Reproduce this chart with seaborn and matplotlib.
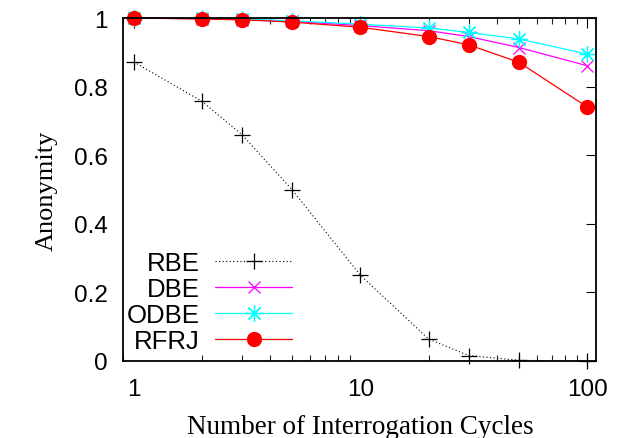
import matplotlib
matplotlib.use("Agg")
import matplotlib.pyplot as plt
import matplotlib.ticker as mticker
import seaborn as sns
import pandas as pd

cycles = [1, 2, 3, 5, 10, 20, 30, 50, 100]
rbe = [0.872, 0.757, 0.660, 0.499, 0.250, 0.064, 0.016, 0.002, 0.0]
dbe = [1.0, 0.998, 0.995, 0.990, 0.978, 0.963, 0.946, 0.914, 0.861]
odbe = [1.0, 0.999, 0.997, 0.992, 0.982, 0.971, 0.958, 0.939, 0.895]
rfrj = [1.0, 0.997, 0.995, 0.988, 0.973, 0.946, 0.922, 0.871, 0.741]
series_names = ["RBE", "DBE", "ODBE", "RFRJ"]
y_ticks = [0, 0.2, 0.4, 0.6, 0.8, 1]
y_tick_labels = ["0", "0.2", "0.4", "0.6", "0.8", "1"]
x_ticks = [1, 10, 100]
x_tick_labels = ["1", "10", "100"]

sns.set_theme(style="white")
plt.rcParams["font.family"] = ["Liberation Sans", "DejaVu Sans"]
plt.rcParams["text.color"] = "black"
plt.rcParams["axes.labelcolor"] = "black"

fig = plt.figure(figsize=(6.2, 4.39), dpi=100)
ax = fig.add_axes([0.199, 0.1754, 0.763, 0.7813])

styles = {
    "RBE": dict(color="black", marker="+", markersize=11, markeredgewidth=0.9,
                linestyle=(0, (1, 2.2)), linewidth=0.8),
    "DBE": dict(color="#ff00ff", marker="x", markersize=9, markeredgewidth=0.9,
                linestyle="-", linewidth=0.9),
    "ODBE": dict(color="#00ffff", marker=(8, 2, 0), markersize=12, markeredgewidth=0.9,
                 linestyle="-", linewidth=0.9),
    "RFRJ": dict(color="#ff0000", marker="o", markersize=11, markeredgewidth=0,
                 linestyle="-", linewidth=0.9),
}
values = {"RBE": rbe, "DBE": dbe, "ODBE": odbe, "RFRJ": rfrj}

for name in series_names:
    df = pd.DataFrame({"x": cycles, "y": values[name]})
    st = styles[name]
    sns.lineplot(data=df, x="x", y="y", ax=ax, label=name,
                 color=st["color"], marker=st["marker"], markersize=st["markersize"],
                 markeredgewidth=st["markeredgewidth"], markeredgecolor=st["color"],
                 linestyle=st["linestyle"], linewidth=st["linewidth"], clip_on=False)

ax.set_xscale("log")
ax.set_xlim(0.9, 110)
ax.set_ylim(0, 1)
ax.set_xticks(x_ticks)
ax.set_xticklabels(x_tick_labels)
ax.xaxis.set_minor_locator(mticker.LogLocator(base=10, subs=range(2, 10)))
ax.xaxis.set_minor_formatter(mticker.NullFormatter())
ax.set_yticks(y_ticks)
ax.set_yticklabels(y_tick_labels)

ax.tick_params(axis="both", which="major", direction="in", length=7, width=0.8,
               top=True, right=True, labelsize=17.5, colors="black")
ax.tick_params(axis="x", which="major", pad=12)
ax.tick_params(axis="y", which="major", pad=11)
ax.tick_params(axis="x", which="minor", direction="in", length=4, width=0.8,
               top=True, bottom=True)
for sp in ax.spines.values():
    sp.set_color("black")
    sp.set_linewidth(1.3)

ax.set_xlabel("Number of Interrogation Cycles", family=["Liberation Serif"],
              fontsize=19.5, labelpad=10, color="black")
ax.set_ylabel("Anonymity", family=["Liberation Serif"], fontsize=19,
              labelpad=12, color="black")

leg = ax.legend(loc="lower right", bbox_to_anchor=(0.357, 0.024), frameon=False,
                markerfirst=False, fontsize=18.5, handlelength=3.0, handletextpad=0.6,
                labelspacing=0.08, borderpad=0, borderaxespad=0, labelcolor="black")

fig.savefig("out.png", dpi=100)
